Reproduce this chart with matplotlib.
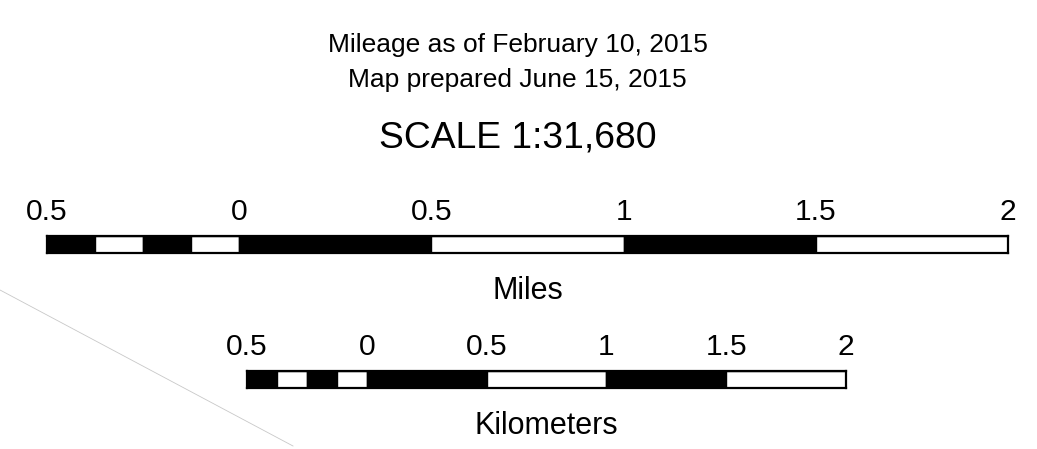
import matplotlib
matplotlib.use('Agg')
import matplotlib.pyplot as plt
from matplotlib.lines import Line2D

plt.rcParams['font.family'] = ['Liberation Sans', 'DejaVu Sans']

# Textos
title_lines = ['Mileage as of February 10, 2015', 'Map prepared June 15, 2015']
scale_text = 'SCALE 1:31,680'

# Barra de millas
mile_ticks = [-0.5, 0, 0.5, 1, 1.5, 2]
mile_labels = ['0.5', '0', '0.5', '1', '1.5', '2']
mile_edges = [-0.5, -0.375, -0.25, -0.125, 0, 0.5, 1, 1.5, 2]

# Barra de kilómetros
km_ticks = [-0.5, 0, 0.5, 1, 1.5, 2]
km_labels = ['0.5', '0', '0.5', '1', '1.5', '2']
km_edges = [-0.5, -0.375, -0.25, -0.125, 0, 0.5, 1, 1.5, 2]

W, H = 1037, 449
fig = plt.figure(figsize=(W / 100, H / 100), dpi=100)

# Títulos (línea base en píxeles)
fig.text(517.5 / W, 1 - 52 / H, title_lines[0], ha='center', va='baseline', fontsize=19)
fig.text(517.5 / W, 1 - 87 / H, title_lines[1], ha='center', va='baseline', fontsize=19)
fig.text(517.5 / W, 1 - 147 / H, scale_text, ha='center', va='baseline', fontsize=26.8)


def scale_bar(rect, ticks, labels, edges, unit):
    ax = fig.add_axes(rect)
    lefts = edges[:-1]
    widths = [b - a for a, b in zip(edges[:-1], edges[1:])]
    colors = ['black' if i % 2 == 0 else 'white' for i in range(len(lefts))]
    ax.bar(lefts, 1, width=widths, align='edge', color=colors,
           edgecolor='black', linewidth=1)
    ax.set_xlim(edges[0], edges[-1])
    ax.set_ylim(0, 1)
    ax.set_xticks([])
    ax.set_yticks([])
    for s in ax.spines.values():
        s.set_linewidth(1.6)
    for x, lbl in zip(ticks, labels):
        ax.annotate(lbl, xy=(x, 1), xycoords=('data', 'axes fraction'),
                    xytext=(0, 11.5), textcoords='offset points',
                    ha='center', va='baseline', fontsize=21.6, annotation_clip=False)
    ax.annotate(unit, xy=(0.5, 0), xycoords='axes fraction',
                xytext=(0, -33), textcoords='offset points',
                ha='center', va='baseline', fontsize=22, annotation_clip=False)
    return ax


scale_bar([47 / W, 1 - 253 / H, 961 / W, 17 / H], mile_ticks, mile_labels, mile_edges, 'Miles')
scale_bar([247 / W, 1 - 388 / H, 599 / W, 17 / H], km_ticks, km_labels, km_edges, 'Kilometers')

# Línea diagonal gris (resto del mapa)
fig.add_artist(Line2D([0, 293 / W], [1 - 290 / H, 1 - 446 / H],
                      transform=fig.transFigure, color='#c8c8c8', lw=0.6))

fig.savefig('out.png', dpi=100)
